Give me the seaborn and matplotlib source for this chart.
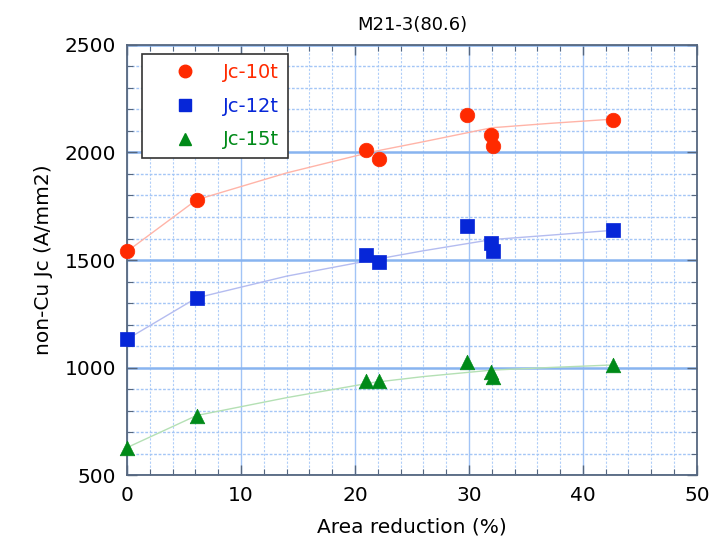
import numpy as np
import pandas as pd
import matplotlib
matplotlib.use("Agg")
import matplotlib.pyplot as plt
import seaborn as sns
from matplotlib.ticker import MultipleLocator

# Data
area_reduction = [0, 6.1, 21.0, 22.1, 29.8, 31.9, 32.1, 42.6]
jc_10t = [1540, 1780, 2010, 1968, 2172, 2083, 2028, 2153]
jc_12t = [1132, 1324, 1524, 1491, 1660, 1580, 1543, 1640]
jc_15t = [628, 777, 937, 937, 1028, 981, 958, 1014]

# Fit curves
fit_x = [0, 6.1, 14.0, 21.5, 26.0, 32.0, 37.0, 42.6]
fit_10t = [1540, 1780, 1905, 2003, 2050, 2115, 2135, 2155]
fit_12t = [1132, 1324, 1425, 1500, 1543, 1595, 1615, 1638]
fit_15t = [628, 777, 860, 930, 958, 988, 1000, 1012]

series_names = ["Jc-10t", "Jc-12t", "Jc-15t"]
marker_colors = ["#ff2a00", "#0626d8", "#008a18"]
line_colors = ["#ffb4a8", "#b4bcf0", "#b4e0b4"]
markers = ["o", "s", "^"]
msizes = [110, 100, 110]

sns.set_theme(style="white")
plt.rcParams['font.family'] = ['DejaVu Sans']
plt.rcParams['text.color'] = 'black'
plt.rcParams['axes.labelcolor'] = 'black'
plt.rcParams['xtick.color'] = 'black'
plt.rcParams['ytick.color'] = 'black'

fig = plt.figure(figsize=(7.14, 5.55), dpi=100)
ax = fig.add_axes([0.178, 0.144, 0.798, 0.775])

ax.set_xlim(0, 50)
ax.set_ylim(500, 2500)
ax.xaxis.set_major_locator(MultipleLocator(10))
ax.xaxis.set_minor_locator(MultipleLocator(2))
ax.yaxis.set_major_locator(MultipleLocator(500))
ax.yaxis.set_minor_locator(MultipleLocator(100))

ax.xaxis.grid(True, which="minor", color="#b0cef8", linestyle=(0, (2, 1.5)), linewidth=0.8)
ax.yaxis.grid(True, which="minor", color="#a4c6f6", linestyle=(0, (2, 1.2)), linewidth=1.0)
ax.xaxis.grid(True, which="major", color="#a2c4f6", linestyle="-", linewidth=1.0)
ax.yaxis.grid(True, which="major", color="#88b4f0", linestyle="-", linewidth=1.8)
ax.set_axisbelow(True)

fits = [fit_10t, fit_12t, fit_15t]
vals = [jc_10t, jc_12t, jc_15t]
handles = []
for name, fy, vy, mc, lc, mk, ms in zip(series_names, fits, vals, marker_colors,
                                        line_colors, markers, msizes):
    sns.lineplot(x=fit_x, y=fy, ax=ax, color=lc, linewidth=1.0, sort=False,
                 legend=False, zorder=2)
    sns.scatterplot(x=area_reduction, y=vy, ax=ax, color=mc, marker=mk, s=ms,
                    edgecolor=mc, linewidth=0.5, legend=False, zorder=5, clip_on=False)
    handles.append(plt.Line2D([], [], linestyle="none", marker=mk, color=mc,
                              markersize=9 if mk != "s" else 8.5))

for side in ["left", "right", "top", "bottom"]:
    ax.spines[side].set_color("#56677f")
    ax.spines[side].set_linewidth(1.3)

ax.tick_params(which="both", direction="in", top=True, right=True,
               left=True, bottom=True, color="#56677f")
ax.tick_params(which="major", length=7, width=1.0, labelsize=14.5, pad=8)
ax.tick_params(which="minor", length=4, width=0.8)

ax.set_xlabel("Area reduction (%)", fontsize=14.5, labelpad=9)
ax.set_ylabel("non-Cu Jc (A/mm2)", fontsize=14.5, labelpad=8)
ax.set_title("M21-3(80.6)", fontsize=13, pad=11)

leg = ax.legend(handles, series_names, loc="upper left",
                bbox_to_anchor=(0.0265, 0.978), frameon=True, fancybox=False,
                edgecolor="#333333", fontsize=14, borderpad=0.45,
                labelspacing=0.75, handletextpad=0.2, markerfirst=True,
                borderaxespad=0, handlelength=3.5)
leg.get_frame().set_linewidth(1.2)
leg.get_frame().set_facecolor("white")
leg.get_frame().set_alpha(1.0)
for t, c in zip(leg.get_texts(), marker_colors):
    t.set_color(c)

fig.savefig("out.png", dpi=100)
